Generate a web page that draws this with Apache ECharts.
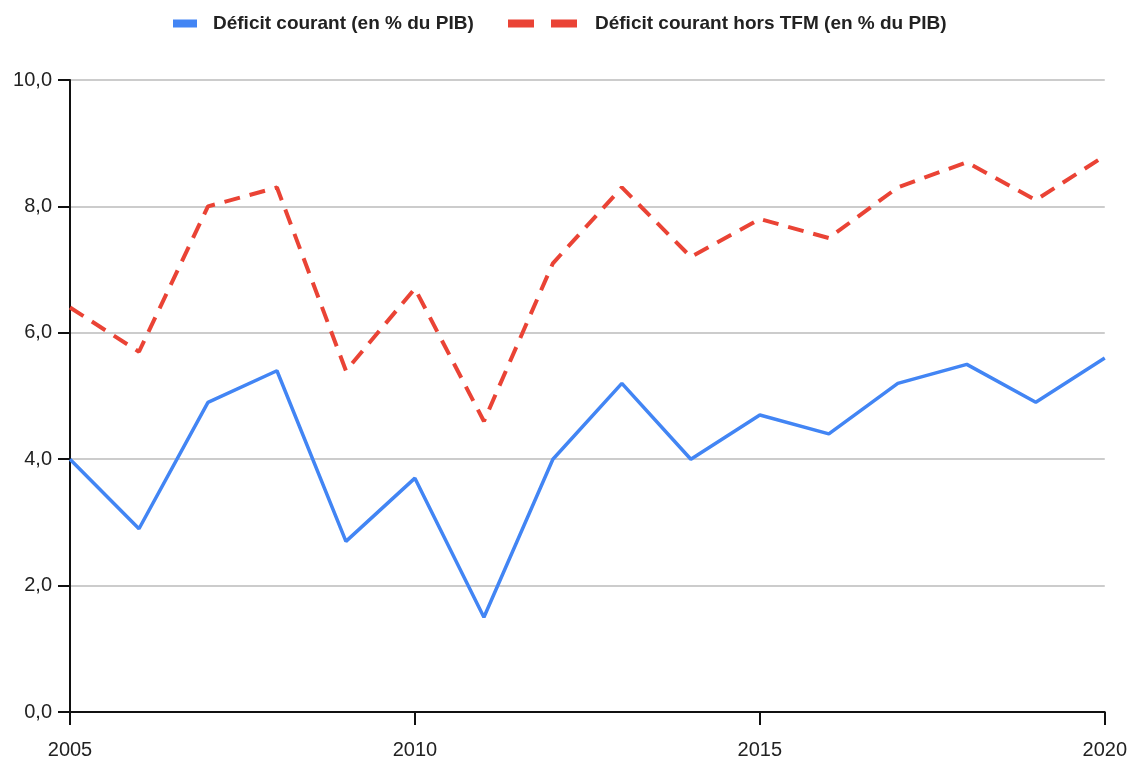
<!DOCTYPE html>
<html>
<head>
<meta charset="utf-8">
<script src="https://cdn.jsdelivr.net/npm/echarts@6/dist/echarts.min.js"></script>
<style>
  html, body { margin: 0; padding: 0; background: #fff; }
  #chart { width: 1130px; height: 761px; }
</style>
</head>
<body>
<div id="chart"></div>
<script>
const years = [2005, 2006, 2007, 2008, 2009, 2010, 2011, 2012, 2013, 2014, 2015, 2016, 2017, 2018, 2019, 2020]
const deficit = [4.0, 2.9, 4.9, 5.4, 2.7, 3.7, 1.5, 4.0, 5.2, 4.0, 4.7, 4.4, 5.2, 5.5, 4.9, 5.6]
const deficitHorsTFM = [6.4, 5.7, 8.0, 8.3, 5.4, 6.7, 4.6, 7.1, 8.3, 7.2, 7.8, 7.5, 8.3, 8.7, 8.1, 8.8]

const nameA = 'Déficit courant (en % du PIB)'
const nameB = 'Déficit courant hors TFM (en % du PIB)'
const font = '"Liberation Sans", Arial, sans-serif'

const myChart = echarts.init(document.getElementById('chart'))
myChart.setOption({
  animation: false,
  textStyle: { fontFamily: font },
  legend: [
    {
      left: 168,
      top: 9,
      itemWidth: 24,
      itemHeight: 8,
      data: [{ name: nameA, icon: 'rect' }],
      textStyle: { fontFamily: font, fontWeight: 'bold', fontSize: 19, color: '#222', padding: [0, 0, 0, 11] }
    },
    {
      left: 503,
      top: 9,
      itemWidth: 69,
      itemHeight: 8,
      data: [{ name: nameB, icon: 'path://M0,0h26v8h-26z M43,0h26v8h-26z' }],
      textStyle: { fontFamily: font, fontWeight: 'bold', fontSize: 19, color: '#222', padding: [0, 0, 0, 13] }
    }
  ],
  grid: { left: 70, right: 25, top: 80, bottom: 49 },
  xAxis: {
    type: 'value',
    min: 2005,
    max: 2020,
    interval: 5,
    axisLine: { lineStyle: { color: '#111', width: 2 } },
    axisTick: { show: true, length: 13, lineStyle: { color: '#111', width: 2 } },
    splitLine: { show: false },
    axisLabel: { fontFamily: font, fontSize: 20, color: '#222', margin: 28, formatter: v => String(v) }
  },
  yAxis: {
    type: 'value',
    min: 0,
    max: 10,
    interval: 2,
    axisLine: { show: true, lineStyle: { color: '#111', width: 2 } },
    axisTick: { show: true, length: 12, lineStyle: { color: '#111', width: 2 } },
    splitLine: { lineStyle: { color: '#cccccc', width: 2 } },
    axisLabel: { fontFamily: font, fontSize: 20, color: '#222', margin: 18, formatter: v => v.toFixed(1).replace('.', ',') }
  },
  series: [
    {
      name: nameA,
      type: 'line',
      data: years.map((y, i) => [y, deficit[i]]),
      showSymbol: false,
      color: '#4285f4',
      lineStyle: { width: 3.5, color: '#4285f4' },
      z: 3
    },
    {
      name: nameB,
      type: 'line',
      data: years.map((y, i) => [y, deficitHorsTFM[i]]),
      showSymbol: false,
      color: '#ea4335',
      lineStyle: { width: 4, color: '#ea4335', type: [16, 10] },
      z: 2
    }
  ]
})
</script>
</body>
</html>
